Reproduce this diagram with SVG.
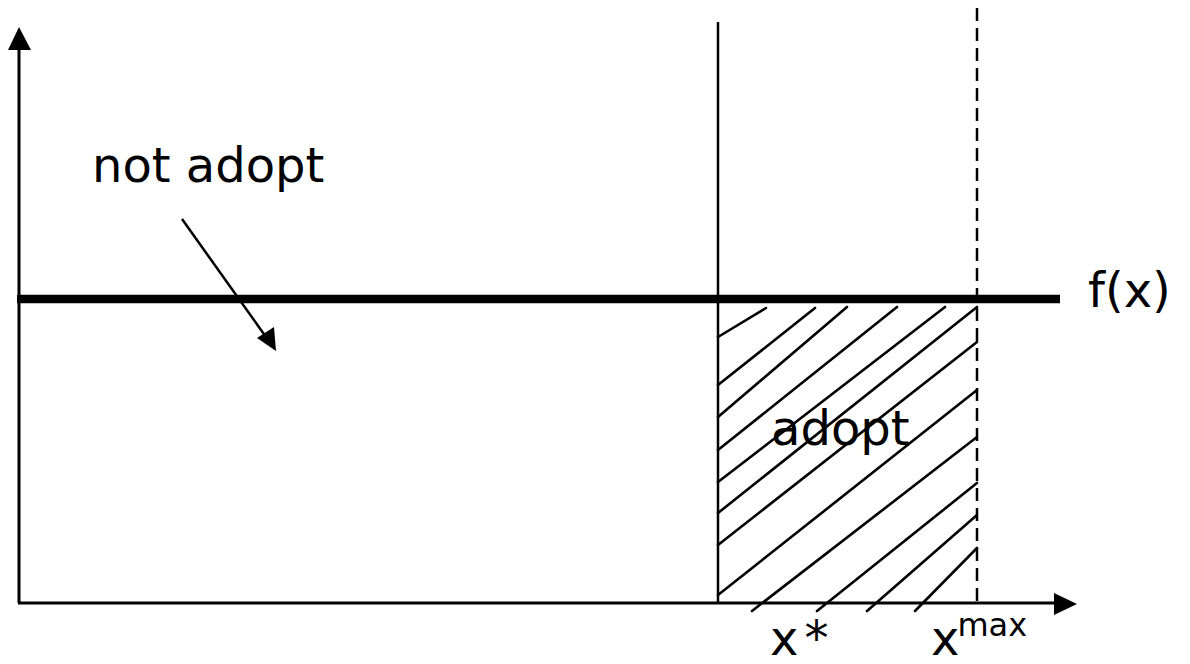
<svg xmlns="http://www.w3.org/2000/svg" width="1190" height="664" viewBox="0 0 1190 664">
<style>
.t{font-family:"DejaVu Sans","Liberation Sans",sans-serif;font-size:48px;fill:#000}
.sup{font-size:32px}
.h{stroke:#000;stroke-width:2.6;fill:none;stroke-linecap:round}
.ax{stroke:#000;stroke-width:3;fill:none}
</style>
<rect width="1190" height="664" fill="#fff"/>
<g id="hatch">
<path class="h" d="M718,337L766,308M718,385L815,308M718,417L847,307M718,450L897,307M718,482L945,307M718,513L977,307M718,545L977,342M718,595L977,390M752,611L977,437M817,611L977,483M867,611L977,515M915,611L977,548"/>
</g>
<g id="connectors">
<path class="ax" d="M19,603V48"/>
<polygon points="19,27 8,50 31,50" fill="#000"/>
<path class="ax" d="M18,603H1056"/>
<polygon points="1077,604 1054,593 1054,615" fill="#000"/>
<path d="M718,22V603" stroke="#000" stroke-width="2.5"/>
<path d="M977,8V603" stroke="#000" stroke-width="2.5" stroke-dasharray="13,7"/>
<path d="M182,219L266,337" stroke="#000" stroke-width="2.5"/>
<polygon points="276,351 257,338 274,327" fill="#000"/>
</g>
<g id="fx">
<path d="M17,299H1060" stroke="#000" stroke-width="8.5"/>
<text class="t" x="1088" y="307">f(x)</text>
</g>
<g id="not-adopt">
<text class="t" x="92" y="182">not adopt</text>
</g>
<g id="adopt">
<text class="t" x="771" y="445">adopt</text>
</g>
<g id="xstar">
<text class="t" x="770" y="655">x<tspan dx="6">*</tspan></text>
</g>
<g id="xmax">
<text class="t" x="931" y="655">x<tspan class="sup" dy="-19" dx="-2">max</tspan></text>
</g>
</svg>
